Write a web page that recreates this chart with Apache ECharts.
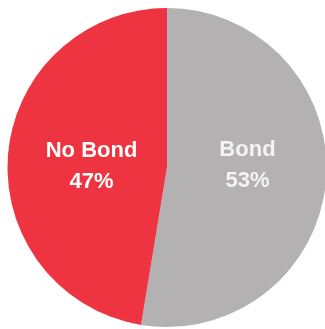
<!DOCTYPE html>
<html>
<head>
<meta charset="utf-8">
<script src="https://cdn.jsdelivr.net/npm/echarts@6/dist/echarts.min.js"></script>
<style>
  html, body { margin: 0; padding: 0; background: #fff; }
  #chart { width: 325px; height: 329px; }
</style>
</head>
<body>
<div id="chart"></div>
<script>
const categories = ["Bond", "No Bond"];
const shares = [52.6, 47.4];
const colors = ["#b3b1b2", "#ee3440"];
const textColors = ["#f4f4f4", "#ffffff"];
const labelOffsets = [[-2, -9], [7, 6]];

const chart = echarts.init(document.getElementById("chart"));
chart.setOption({
  animation: false,
  series: [{
    type: "pie",
    center: [167, 167.5],
    radius: [0, 159.5],
    startAngle: 90,
    clockwise: true,
    avoidLabelOverlap: false,
    data: categories.map((name, i) => ({
      name,
      value: shares[i],
      itemStyle: { color: colors[i] },
      label: { color: textColors[i], offset: labelOffsets[i] },
    })),
    itemStyle: { borderWidth: 0 },
    label: {
      show: true,
      position: "inside",
      formatter: (p) => `${p.name}\n${Math.round(p.value)}%`,
      fontFamily: "Liberation Sans",
      fontWeight: "bold",
      fontSize: 22,
      lineHeight: 31,
      align: "center",
    },
    labelLine: { show: false },
    emphasis: { disabled: true },
  }],
});
</script>
</body>
</html>
